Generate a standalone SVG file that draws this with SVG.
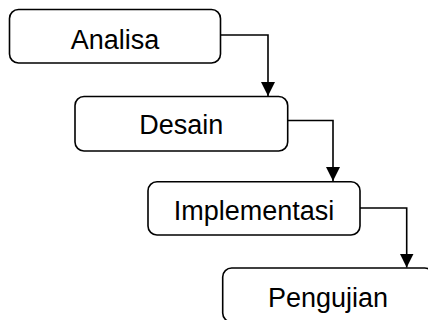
<svg xmlns="http://www.w3.org/2000/svg" width="428" height="320" viewBox="0 0 428 320">
<defs>
<marker id="arr" markerUnits="userSpaceOnUse" markerWidth="14" markerHeight="14" viewBox="0 0 14 14" refX="14" refY="7" orient="auto">
<path d="M0,0 L14,7 L0,14 Z" fill="#000"/>
</marker>
<style>
.box{fill:#fff;stroke:#000;stroke-width:1.6}
.lbl{font-family:"Liberation Sans",Arial,sans-serif;font-size:27px;fill:#000;text-anchor:middle}
.con{fill:none;stroke:#000;stroke-width:1.6}
</style>
</defs>
<rect width="428" height="320" fill="#fff"/>
<g id="connectors">
<path class="con" d="M220.5,35 H268 V96" marker-end="url(#arr)"/>
<path class="con" d="M287.7,120.5 H333 V181" marker-end="url(#arr)"/>
<path class="con" d="M360,208 H406.7 V267.5" marker-end="url(#arr)"/>
</g>
<g id="analisa">
<rect class="box" x="9.5" y="9.5" width="211" height="53.5" rx="9"/>
<text class="lbl" x="115" y="48.5">Analisa</text>
</g>
<g id="desain">
<rect class="box" x="75" y="96.5" width="212.7" height="54.5" rx="9"/>
<text class="lbl" x="181.3" y="134">Desain</text>
</g>
<g id="implementasi">
<rect class="box" x="148" y="181.7" width="212" height="53.3" rx="9"/>
<text class="lbl" x="254" y="219.5">Implementasi</text>
</g>
<g id="pengujian">
<rect class="box" x="222.7" y="268" width="211" height="54" rx="9"/>
<text class="lbl" x="328" y="306.5">Pengujian</text>
</g>
</svg>
